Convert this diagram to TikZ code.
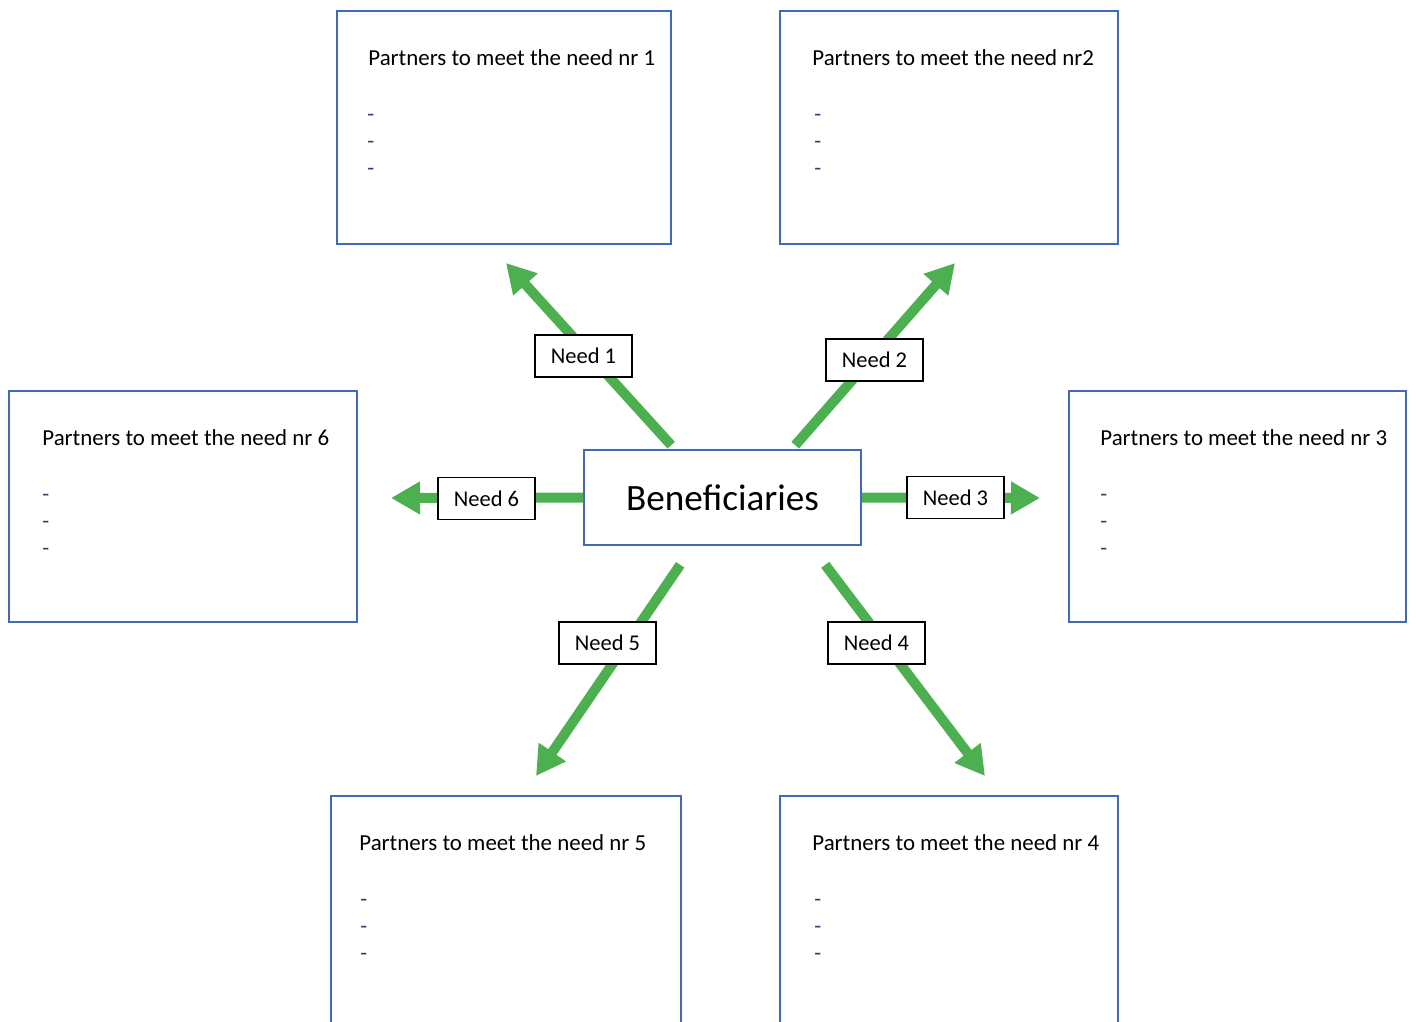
\documentclass[tikz,border=0pt]{standalone}
\usepackage{fontspec}
\setmainfont{Carlito}
\usetikzlibrary{arrows.meta}
\definecolor{boxblue}{RGB}{68,106,180}
\definecolor{needgreen}{RGB}{77,176,80}
\begin{document}
\begin{tikzpicture}[x=1pt,y=-1pt,
  pbox/.style={draw=boxblue,line width=1.6pt,fill=white,inner sep=0pt},
  ptitle/.style={anchor=base west,inner sep=0pt,font=\fontsize{22.9}{27}\selectfont},
  pdash/.style={anchor=base west,inner sep=0pt,font=\fontsize{22.5}{27}\selectfont,text=boxblue!60!black},
  benbox/.style={draw=boxblue,line width=1.6pt,fill=white,inner sep=0pt,minimum width=277pt,minimum height=95pt,font=\fontsize{37.2}{40}\selectfont},
  needlbl/.style={draw=black,line width=1.6pt,fill=white,inner sep=0pt,minimum width=97pt,minimum height=42pt,font=\fontsize{22.5}{27}\selectfont},
  needarrow/.style={draw=needgreen,line width=10pt,-{Triangle[length=29pt,width=31pt]}}]
\useasboundingbox (0,0) rectangle (1416,1021);
\fill[white] (0,0) rectangle (1416,1021);
\begin{scope}
\clip (0,0) rectangle (1416,1021);
% partner boxes
\node[pbox,minimum width=334pt,minimum height=233pt] (p1) at (504,127.5) {};
\node[pbox,minimum width=338pt,minimum height=233pt] (p2) at (949,127.5) {};
\node[pbox,minimum width=348pt,minimum height=231pt] (p6) at (183,506.5) {};
\node[pbox,minimum width=337pt,minimum height=231pt] (p3) at (1237.5,506.5) {};
\node[pbox,minimum width=350pt,minimum height=240pt] (p5) at (506,916) {};
\node[pbox,minimum width=338pt,minimum height=240pt] (p4) at (949,916) {};
% titles
\node[ptitle] (p1t) at ([xshift=32pt,yshift=-55pt]p1.north west) {Partners to meet the need nr 1};
\node[ptitle] (p2t) at ([xshift=33pt,yshift=-55pt]p2.north west) {Partners to meet the need nr2};
\node[ptitle] (p6t) at ([xshift=34pt,yshift=-55pt]p6.north west) {Partners to meet the need nr 6};
\node[ptitle] (p3t) at ([xshift=32pt,yshift=-55pt]p3.north west) {Partners to meet the need nr 3};
\node[ptitle] (p5t) at ([xshift=29pt,yshift=-55pt]p5.north west) {Partners to meet the need nr 5};
\node[ptitle] (p4t) at ([xshift=33pt,yshift=-55pt]p4.north west) {Partners to meet the need nr 4};
% dashes
\foreach \b/\dx in {p1/31,p2/35,p6/34,p3/32,p5/30,p4/35}{
  \foreach \k/\dy in {1/111,2/138,3/165}{
    \node[pdash] (\b d\k) at ([xshift=\dx pt,yshift=-\dy pt]\b.north west) {-};
  }
}
\end{scope}
% centre
\node[benbox] (ben) at (722.5,497.5) {\raisebox{-3pt}{Beneficiaries}};
% arrow tips
\coordinate (t1) at (506,263);
\coordinate (t2) at (955,263);
\coordinate (t6) at (391,498);
\coordinate (t3) at (1040,498);
\coordinate (t5) at (536,776);
\coordinate (t4) at (985,776);
% arrows
\draw[needarrow] ([xshift=88pt,yshift=4pt]ben.north west) -- (t1);
\draw[needarrow] ([xshift=212pt,yshift=4pt]ben.north west) -- (t2);
\draw[needarrow] (ben.west) -- (t6);
\draw[needarrow] (ben.east) -- (t3);
\draw[needarrow] ([xshift=97pt,yshift=-19pt]ben.south west) -- (t5);
\draw[needarrow] ([xshift=242pt,yshift=-19pt]ben.south west) -- (t4);
% need labels
\node[needlbl] (n1) at (583.5,356) {Need 1};
\node[needlbl] (n2) at (874.5,360) {Need 2};
\node[needlbl] (n6) at (486.5,498.5) {Need 6};
\node[needlbl] (n3) at (955.5,497.5) {Need 3};
\node[needlbl] (n5) at (607.5,643) {Need 5};
\node[needlbl] (n4) at (876.5,643) {Need 4};
\end{tikzpicture}
\end{document}
